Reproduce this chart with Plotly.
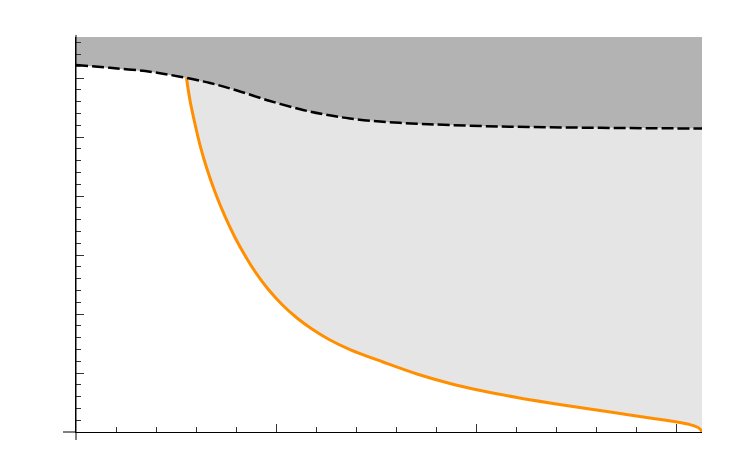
import plotly.graph_objects as go

# boundary curve (dashed)
dash_x = [0.0, 0.17, 0.37, 0.52, 0.67, 0.805, 0.97, 1.135, 1.245, 1.37, 1.535, 1.705, 1.87, 2.12, 2.37, 2.62, 2.87, 3.13]
dash_y = [6.220, 6.173, 6.107, 6.022, 5.915, 5.788, 5.610, 5.458, 5.381, 5.314, 5.258, 5.225, 5.203, 5.178, 5.164, 5.156, 5.149, 5.144]

# orange curve
orange_x = [0.5525, 0.57, 0.595, 0.62, 0.655, 0.695, 0.745, 0.795, 0.845, 0.895, 0.96, 1.03, 1.105, 1.18, 1.27, 1.37,
	1.535, 1.705, 1.87, 2.035, 2.205, 2.37, 2.535, 2.705, 2.87, 3.005, 3.07, 3.105, 3.1225, 3.13]
orange_y = [6.000, 5.619, 5.220, 4.864, 4.458, 4.068, 3.653, 3.297, 2.992, 2.720, 2.424, 2.161, 1.932, 1.746, 1.559, 1.397,
	1.186, 0.983, 0.822, 0.695, 0.585, 0.492, 0.407, 0.322, 0.237, 0.169, 0.125, 0.085, 0.042, 0.0]

X_MAX = 3.13
Y_TOP = 6.695

fig = go.Figure()

# light region between orange curve and dashed curve
upper = [(x, y) for x, y in zip(dash_x, dash_y) if x > orange_x[0]]
light_x = orange_x + [p[0] for p in reversed(upper)]
light_y = orange_y + [p[1] for p in reversed(upper)]
fig.add_trace(go.Scatter(
	x = light_x, y = light_y,
	fill = 'toself', fillcolor = '#e5e5e5',
	mode = 'lines', line = dict(width=0), hoverinfo = 'skip',
))

# dark region above dashed curve
fig.add_trace(go.Scatter(
	x = dash_x + [X_MAX, 0.0], y = dash_y + [Y_TOP, Y_TOP],
	fill = 'toself', fillcolor = '#b3b3b3',
	mode = 'lines', line = dict(width=0), hoverinfo = 'skip',
))

fig.add_trace(go.Scatter(
	x = orange_x, y = orange_y,
	mode = 'lines', line = dict(color='#ff8f00', width=3, shape='spline', smoothing=1),
))
fig.add_trace(go.Scatter(
	x = dash_x, y = dash_y,
	mode = 'lines', line = dict(color='black', width=2.5, dash='12px,4px', shape='spline', smoothing=1),
))

axis_common = dict(
	showgrid = False, zeroline = False, showticklabels = False,
	showline = True, linecolor = 'black', linewidth = 1,
	ticks = 'inside', ticklen = 8, tickcolor = '#333333', tickwidth = 1,
	tick0 = 0,
)
fig.update_xaxes(
	range = [0, X_MAX], dtick = 1,
	minor = dict(ticks='inside', ticklen=5, dtick=0.2, tickcolor='#333333', tickwidth=1),
	**axis_common,
)
fig.update_yaxes(
	range = [0, Y_TOP], dtick = 1,
	minor = dict(ticks='inside', ticklen=5, dtick=0.2, tickcolor='#333333', tickwidth=1),
	**axis_common,
)

# axes stick out a little past the origin
fig.add_shape(type='line', xref='paper', yref='paper', x0=-13/626, x1=0, y0=0, y1=0, line=dict(color='black', width=1))
fig.add_shape(type='line', xref='paper', yref='paper', x0=0, x1=0, y0=-8/395, y1=1.005, line=dict(color='black', width=1))

fig.update_layout(
	width = 747, height = 463,
	margin = dict(l=68, r=53, t=29, b=39),
	plot_bgcolor = 'white', paper_bgcolor = 'white',
	showlegend = False,
)
fig.write_html('out.html')
